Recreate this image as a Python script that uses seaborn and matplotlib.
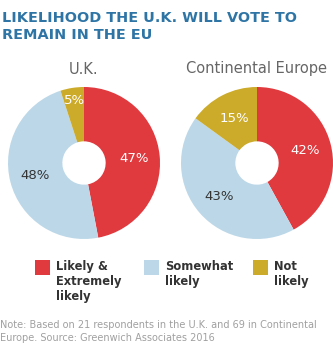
import numpy as np
import matplotlib
matplotlib.use("Agg")
import matplotlib.pyplot as plt
from matplotlib.patches import Rectangle
import seaborn as sns

title = "LIKELIHOOD THE U.K. WILL VOTE TO\nREMAIN IN THE EU"
regions = ["U.K.", "Continental Europe"]
categories = ["Likely &\nExtremely\nlikely", "Somewhat\nlikely", "Not\nlikely"]
uk_values = [47, 48, 5]
eu_values = [42, 43, 15]
note = "Note: Based on 21 respondents in the U.K. and 69 in Continental\nEurope. Source: Greenwich Associates 2016"

sns.set_theme(style="white")
plt.rcParams['font.family'] = ['DejaVu Sans']
palette = sns.color_palette(["#e0393e", "#bcd8e8", "#ccaa2a"])
label_colors = ["white", "#333333", "white"]

W, H = 333, 355
fig = plt.figure(figsize=(W / 100, H / 100), dpi=100)
fig.patch.set_facecolor("white")

def px_axes(cx, cy, r):
    return fig.add_axes([(cx - r) / W, (H - cy - r) / H, 2 * r / W, 2 * r / H])

fig.text(2 / W, 1 - 11 / H, title, ha="left", va="top", color="#2e75a6",
         fontsize=10.4, fontweight="bold", linespacing=1.3)

centers = [(84, 163), (257, 163)]
R = 76
for (cx, cy), name, vals in zip(centers, regions, [uk_values, eu_values]):
    ax = px_axes(cx, cy, R)
    wedges, _ = ax.pie(vals, colors=palette, startangle=90, counterclock=False,
                       radius=1, wedgeprops=dict(width=0.715, linewidth=0))
    for w, v, tc in zip(wedges, vals, label_colors):
        ang = np.deg2rad((w.theta1 + w.theta2) / 2)
        rr = 0.83 if v < 10 else 0.66
        ax.text(rr * np.cos(ang), rr * np.sin(ang), f"{v}%", ha="center", va="center",
                color=tc, fontsize=9.5, fontweight="medium")
    ax.set_xlim(-1, 1)
    ax.set_ylim(-1, 1)
    ax.set_aspect("equal")
    ax.axis("off")
    fig.text(cx / W, 1 - 69 / H, name, ha="center", va="center", color="#666666",
             fontsize=10.5)

legend_x = [35, 144, 253]
for x, cat, col in zip(legend_x, categories, palette):
    fig.patches.append(Rectangle((x / W, 1 - 275 / H), 15 / W, 15 / H,
                                 transform=fig.transFigure, facecolor=col,
                                 edgecolor="none"))
    fig.text((x + 21) / W, 1 - 260 / H, cat, ha="left", va="top", color="#333333",
             fontsize=8.3, fontweight="bold", linespacing=1.2)

fig.text(0, 1 - 320 / H, note, ha="left", va="top", color="#a0a0a0",
         fontsize=7.0, linespacing=1.4)

fig.savefig("out.png", dpi=100, facecolor="white")
